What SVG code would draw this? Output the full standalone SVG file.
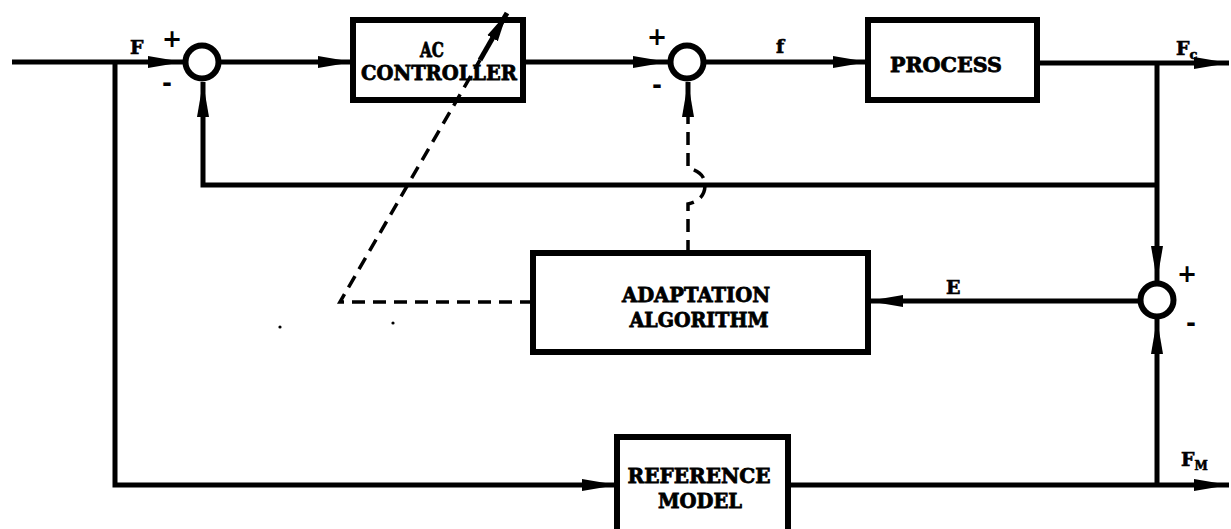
<svg xmlns="http://www.w3.org/2000/svg" width="1231" height="529" viewBox="0 0 1231 529">
<style>
.ln{fill:none;stroke:#000;stroke-width:5;stroke-linejoin:miter}
.dash{fill:none;stroke:#000;stroke-width:3.5;stroke-dasharray:13,8}
.box{fill:none;stroke:#000;stroke-width:6}
.sum{fill:#fff;stroke:#000;stroke-width:6}
.t{font-family:"DejaVu Serif","Liberation Serif",serif;font-weight:bold;font-size:20px;fill:#000;stroke:#000;stroke-width:0.8;text-anchor:middle}
.lb{font-family:"DejaVu Serif","Liberation Serif",serif;font-weight:bold;font-size:19px;fill:#000;stroke:#000;stroke-width:0.6}
.sg{font-family:"DejaVu Sans","Liberation Sans",sans-serif;font-weight:bold;font-size:24px;fill:#000;text-anchor:middle}
</style>
<defs>
<marker id="ah" markerUnits="userSpaceOnUse" markerWidth="36" markerHeight="14" refX="35" refY="7" orient="auto">
<path d="M0,1 L35,7 L0,13 z" fill="#000"/>
</marker>
<marker id="ahd" markerUnits="userSpaceOnUse" markerWidth="30" markerHeight="14" refX="29" refY="7" orient="auto">
<path d="M0,1 L29,7 L0,13 z" fill="#000"/>
</marker>
</defs>
<g id="sum1">
<circle class="sum" cx="202" cy="62" r="16.5"/>
<text class="sg" x="172" y="47">+</text>
<text class="sg" x="167" y="91">-</text>
</g>
<g id="ac-controller">
<rect class="box" x="353" y="20" width="170" height="80"/>
<text class="t" x="432" y="57" textLength="24" lengthAdjust="spacingAndGlyphs">AC</text>
<text class="t" x="439" y="80" textLength="156" lengthAdjust="spacingAndGlyphs">CONTROLLER</text>
</g>
<g id="sum2">
<circle class="sum" cx="687" cy="62" r="16.5"/>
<text class="sg" x="657" y="45">+</text>
<text class="sg" x="657" y="93">-</text>
</g>
<g id="process">
<rect class="box" x="868" y="20" width="169" height="80"/>
<text class="t" x="946" y="72" textLength="112" lengthAdjust="spacingAndGlyphs">PROCESS</text>
</g>
<g id="sum3">
<circle class="sum" cx="1157" cy="300" r="16.5"/>
<text class="sg" x="1187" y="282">+</text>
<text class="sg" x="1191" y="331">-</text>
</g>
<g id="adaptation">
<rect class="box" x="533" y="253" width="335" height="99"/>
<text class="t" x="696" y="302" textLength="148" lengthAdjust="spacingAndGlyphs">ADAPTATION</text>
<text class="t" x="699" y="327" textLength="139" lengthAdjust="spacingAndGlyphs">ALGORITHM</text>
</g>
<g id="reference-model">
<rect class="box" x="617" y="437" width="171" height="100"/>
<text class="t" x="699" y="483" textLength="143" lengthAdjust="spacingAndGlyphs">REFERENCE</text>
<text class="t" x="700" y="508" textLength="84" lengthAdjust="spacingAndGlyphs">MODEL</text>
</g>
<g id="labels">
<text class="lb" x="130" y="54">F</text>
<text class="lb" x="776" y="53">f</text>
<text class="lb" x="946" y="294">E</text>
<text class="lb" x="1176" y="55">F<tspan font-size="13" dy="4">c</tspan></text>
<text class="lb" x="1181" y="466">F<tspan font-size="12" dy="4">M</tspan></text>
</g>
<g id="connectors">
<path class="ln" d="M12,62 H183" marker-end="url(#ah)"/>
<path class="ln" d="M115,62 V485 H617" marker-end="url(#ah)"/>
<path class="ln" d="M221,62 H353" marker-end="url(#ah)"/>
<path class="ln" d="M523,62 H668" marker-end="url(#ah)"/>
<path class="ln" d="M706,62 H868" marker-end="url(#ah)"/>
<path class="ln" d="M1037,63 H1229" marker-end="url(#ah)"/>
<path class="ln" d="M1157,63 V281" marker-end="url(#ah)"/>
<path class="ln" d="M1157,185 H203 V82" marker-end="url(#ah)"/>
<path class="ln" d="M1138,301 H868" marker-end="url(#ah)"/>
<path class="ln" d="M788,485 H1229" marker-end="url(#ah)"/>
<path class="ln" d="M1157,485 V319" marker-end="url(#ah)"/>
<path class="dash" d="M688,253 V204 Q705,200 705,185 Q705,172 688,168 V112"/>
<path class="ln" d="M688,115 V82" marker-end="url(#ah)" stroke-width="3.5"/>
<path class="dash" d="M533,302 H340 L480,60"/>
<path class="ln" d="M480,60 L507,13" stroke-width="3.5" marker-end="url(#ahd)"/>
<circle cx="393" cy="323" r="1.6" fill="#000"/>
<circle cx="280" cy="327" r="1.6" fill="#000"/>
</g>
</svg>
